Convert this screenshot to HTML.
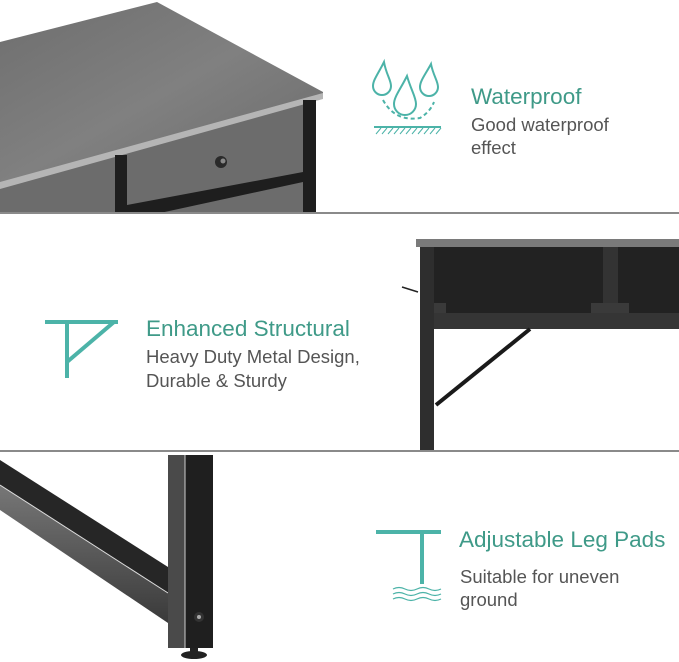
<!DOCTYPE html>
<html><head><meta charset="utf-8"><style>
body{margin:0;background:#fff}
svg{display:block}
.t{font-family:"Liberation Sans",sans-serif;fill:#3f9a88;font-size:22.5px}
.s{font-family:"Liberation Sans",sans-serif;fill:#555;font-size:18.5px}
</style></head><body>
<svg width="679" height="662" viewBox="0 0 679 662" xmlns="http://www.w3.org/2000/svg">
<defs>
<linearGradient id="wood" x1="0" y1="0" x2="1" y2="1"><stop offset="0" stop-color="#6e6e6e"/><stop offset="0.5" stop-color="#808080"/><stop offset="1" stop-color="#6a6a6a"/></linearGradient>
<linearGradient id="beam" x1="0" y1="0" x2="0" y2="1"><stop offset="0" stop-color="#777"/><stop offset="1" stop-color="#3a3a3a"/></linearGradient>
</defs>
<!-- top photo -->
<polygon points="0,100 305,100 305,213 0,213" fill="#6c6c6c"/>
<polygon points="0,42 157,2 323,92 323,98 0,186" fill="url(#wood)"/>
<polygon points="0,182 323,93 323,99 0,189" fill="#b5b5b5"/>
<rect x="115" y="155" width="12" height="58" fill="#1e1e1e"/>
<rect x="303" y="100" width="13" height="113" fill="#1e1e1e"/>
<polygon points="127,205 303,172 303,182 160,213 127,213" fill="#1e1e1e"/>
<circle cx="221" cy="162" r="6" fill="#2a2a2a"/><circle cx="223" cy="161" r="2.5" fill="#888"/>
<rect x="0" y="212" width="679" height="2" fill="#8a8a8a"/>
<!-- middle photo -->
<rect x="416" y="239" width="263" height="8" fill="#7a7a7a"/>
<rect x="434" y="247" width="245" height="66" fill="#222"/>
<rect x="603" y="247" width="15" height="66" fill="#333"/>
<rect x="591" y="303" width="38" height="10" fill="#3a3a3a"/>
<rect x="434" y="303" width="12" height="10" fill="#3a3a3a"/>
<rect x="434" y="313" width="245" height="16" fill="#353535"/>
<rect x="420" y="247" width="14" height="203" fill="#2e2e2e"/>
<line x1="436" y1="405" x2="530" y2="329" stroke="#1a1a1a" stroke-width="4"/>
<line x1="402" y1="287" x2="418" y2="292" stroke="#222" stroke-width="1.5"/>
<rect x="0" y="450" width="679" height="2" fill="#8a8a8a"/>
<!-- bottom photo -->
<polygon points="0,460 168,567 168,593 0,485" fill="#262626"/>
<polygon points="0,485 168,593 168,623 0,510" fill="url(#beam)"/>
<line x1="0" y1="485" x2="168" y2="593" stroke="#ddd" stroke-width="1"/>
<rect x="168" y="455" width="17" height="193" fill="#4a4a4a"/>
<rect x="185" y="455" width="28" height="193" fill="#1f1f1f"/>
<line x1="185" y1="455" x2="185" y2="648" stroke="#ccc" stroke-width="1"/>
<circle cx="199" cy="617" r="5" fill="#333"/><circle cx="199" cy="617" r="2" fill="#aaa"/>
<rect x="190" y="648" width="8" height="4" fill="#222"/>
<ellipse cx="194" cy="655" rx="13" ry="4" fill="#222"/>
<!-- waterproof icon -->
<g fill="none" stroke="#4cb3a8" stroke-width="2">
<path d="M384,62 C378,74 373,80 373,86 A9,9 0 0 0 391,86 C391,80 386,74 384,62Z"/>
<path d="M407,76 C400,90 394,97 394,104 A11,11 0 0 0 416,104 C416,97 411,90 407,76Z"/>
<path d="M431,64 C425,75 420,81 420,87 A9,9 0 0 0 438,87 C438,81 433,75 431,64Z"/>
<path d="M383,100 Q395,122 420,118 Q430,112 434,102" stroke-dasharray="4,3"/>
<line x1="374" y1="127" x2="441" y2="127"/>
</g>
<g stroke="#4cb3a8" stroke-width="1"><path d="M376,134 l5,-6 M382,134 l5,-6 M388,134 l5,-6 M394,134 l5,-6 M400,134 l5,-6 M406,134 l5,-6 M412,134 l5,-6 M418,134 l5,-6 M424,134 l5,-6 M430,134 l5,-6 M436,134 l5,-6"/></g>
<text class="t" x="471" y="104">Waterproof</text>
<text class="s" x="471" y="131">Good waterproof</text>
<text class="s" x="471" y="154">effect</text>
<!-- structural icon -->
<g stroke="#4cb3a8" stroke-width="4" fill="none">
<line x1="45" y1="322" x2="118" y2="322"/>
<line x1="67" y1="322" x2="67" y2="378"/>
<line x1="67" y1="362" x2="114" y2="322"/>
</g>
<text class="t" x="146" y="336">Enhanced Structural</text>
<text class="s" x="146" y="363">Heavy Duty Metal Design,</text>
<text class="s" x="146" y="387">Durable &amp; Sturdy</text>
<!-- leg pad icon -->
<g stroke="#4cb3a8" fill="none">
<line x1="376" y1="532" x2="441" y2="532" stroke-width="4"/>
<line x1="422" y1="532" x2="422" y2="584" stroke-width="4"/>
<path d="M393,589 q6,-3 12,0 t12,0 t12,0 t12,0 M393,594 q6,-3 12,0 t12,0 t12,0 t12,0 M393,599 q6,-3 12,0 t12,0 t12,0 t12,0" stroke-width="1.2"/>
</g>
<text class="t" x="459" y="547">Adjustable Leg Pads</text>
<text class="s" x="460" y="583">Suitable for uneven</text>
<text class="s" x="460" y="606">ground</text>
</svg>
</body></html>
